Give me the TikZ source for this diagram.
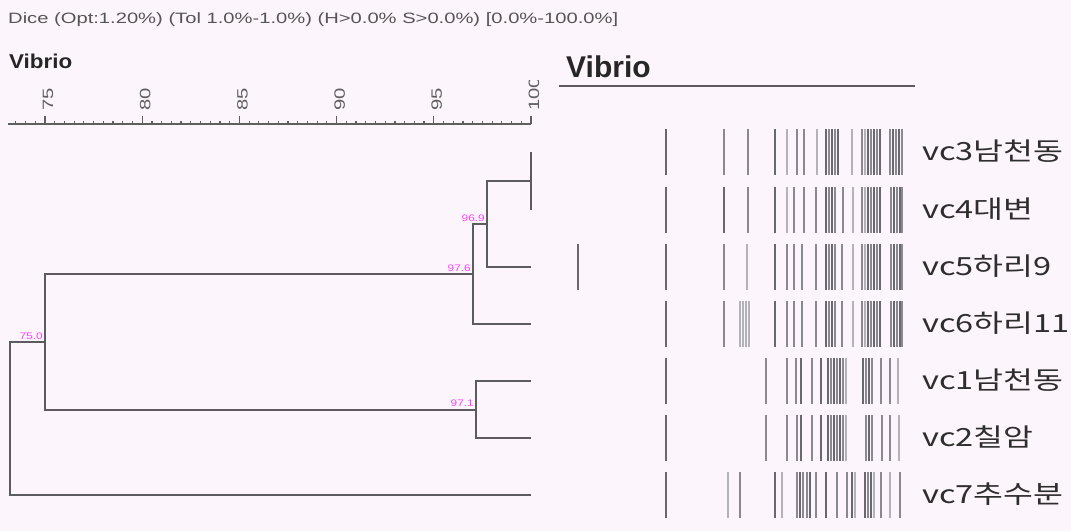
\documentclass[tikz,border=0pt]{standalone}
\usepackage{fontspec}
\setmainfont{Liberation Sans}
\newfontfamily\krfont{Noto Sans CJK KR}
\definecolor{bgpink}{RGB}{252,245,252}
\definecolor{treegray}{RGB}{92,92,96}
\definecolor{hdrgray}{RGB}{85,85,85}
\definecolor{axisgray}{RGB}{95,95,95}
\definecolor{simpink}{RGB}{250,70,250}
\definecolor{bandA}{RGB}{105,104,110}
\definecolor{bandB}{RGB}{138,137,143}
\definecolor{bandC}{RGB}{180,178,185}
\newcommand\drawlane[2]{%
  \foreach \bx/\bs in {#2}
    \draw[band, draw=band\bs] (\bx,#1-23) -- (\bx,#1+23);}
\begin{document}
\begin{tikzpicture}[x=1pt, y=-1pt,
  dline/.style={draw=treegray, line width=1.9pt},
  axisline/.style={draw=axisgray, line width=1.2pt},
  simlabel/.style={text=simpink, inner sep=0pt, anchor=south east,
    font=\fontsize{9.5}{9.5}\selectfont},
  ticklabel/.style={text=axisgray, inner sep=0pt, rotate=90, anchor=west,
    font=\fontsize{15}{15}\selectfont},
  band/.style={line width=2.6pt},
  lanelabel/.style={anchor=west, inner sep=0pt, text=black!82,
    font=\krfont\fontsize{25}{25}\selectfont}]
\fill[bgpink] (0,0) rectangle (1071,531);
\useasboundingbox (0,0) rectangle (1071,531);

% heading line and titles
\node[anchor=base west, inner sep=0pt, text=hdrgray] (hdr) at (8,23)
  {\fontsize{15}{15}\selectfont\scalebox{1.345}[1]{Dice (Opt:1.20\%) (Tol 1.0\%-1.0\%) (H>0.0\% S>0.0\%) [0.0\%-100.0\%]}};
\node[anchor=base west, inner sep=0pt, text=black!85] (title1) at (9,68)
  {\fontsize{20}{20}\bfseries\selectfont\scalebox{1.12}[1]{Vibrio}};
\node[anchor=base west, inner sep=0pt, text=black!85] (title2) at (566,77)
  {\fontsize{30}{30}\bfseries\selectfont Vibrio};
\draw[draw=treegray, line width=2pt] (559,86) -- (915,86);

% similarity scale
\draw[axisline] (8,124) -- (531,124);
\foreach \k in {0,...,53}
  \draw[axisline] ({531-\k*9.72},124) -- ++(0,-3);
\foreach \v in {75,80,...,100}
  \draw[axisline] ({531-(100-\v)*19.44},124) -- ++(0,-8);
\begin{scope}
  \clip (0,80) rectangle (560,124);
  \foreach \v in {75,80,...,100}
    \node[ticklabel] at ({534-(100-\v)*19.44},111) {\scalebox{1.35}[1]{\v}};
\end{scope}

% leaves (right ends of the tree)
\coordinate (L3) at (531,152);
\coordinate (L4) at (531,210);
\coordinate (L5) at (531,267);
\coordinate (L6) at (531,324);
\coordinate (L1) at (531,381);
\coordinate (L2) at (531,438);
\coordinate (L7) at (531,495);
% cluster nodes
\coordinate (n34) at (531,181);
\coordinate (nA) at (487,224);
\coordinate (nB) at (473,274);
\coordinate (nC) at (476,410);
\coordinate (nD) at (45,342);
\coordinate (nR) at (10,418);

\draw[dline] (L3) -- (L4);
\draw[dline] (n34) -| (nA) |- (L5);
\draw[dline] (nA) -| (nB) |- (L6);
\draw[dline] (L1) -| (nC) |- (L2);
\draw[dline] (nB) -| (nD) |- (nC);
\draw[dline] (nD) -| (nR) |- (L7);

\node[simlabel] (sA) at ([shift={(-2,-2)}]nA) {\scalebox{1.25}[1]{96.9}};
\node[simlabel] (sB) at ([shift={(-2,-2)}]nB) {\scalebox{1.25}[1]{97.6}};
\node[simlabel] (sC) at ([shift={(-2,-3)}]nC) {\scalebox{1.25}[1]{97.1}};
\node[simlabel] (sD) at ([shift={(-2,-2)}]nD) {\scalebox{1.25}[1]{75.0}};

% band patterns
\drawlane{152}{666/A,724/B,748/B,775/A,787/C,797/B,804/B,817/C,826/A,829/B,832/A,835/B,838/A,852/C,862/B,865/C,868/A,871/B,874/A,877/B,880/A,890/B,893/A,896/B,899/A,902/B}
\drawlane{210}{666/A,724/A,748/B,775/A,787/C,794/B,804/B,816/B,826/A,829/B,832/A,835/B,843/B,853/C,862/B,865/C,868/A,871/B,874/A,877/B,880/A,891/B,894/A,897/B,900/A,902/B}
\drawlane{267}{578/A,666/A,724/B,747/C,775/A,787/B,794/B,802/B,816/B,826/A,829/B,832/A,835/B,842/B,853/C,862/B,865/C,868/A,871/B,874/A,877/B,880/A,891/B,894/A,897/B,900/A,902/B}
\drawlane{324}{666/A,724/B,740/C,743/C,746/C,749/C,775/A,787/B,794/B,802/B,816/B,826/A,829/B,832/A,835/B,842/B,853/C,862/B,865/C,868/A,871/B,874/A,877/B,880/A,891/B,894/A,897/B,900/A,902/B}
\drawlane{381}{666/A,766/B,787/B,796/B,801/A,812/B,821/A,828/A,831/B,834/A,837/B,840/A,843/B,846/C,863/A,866/B,869/A,872/B,881/B,890/B,898/C}
\drawlane{438}{666/A,766/B,787/B,797/B,801/A,812/B,821/A,828/A,831/B,834/A,837/B,840/A,843/B,846/C,866/B,869/A,872/B,882/B,890/B,899/C}
\drawlane{495}{666/A,728/C,740/B,775/A,782/C,797/B,800/A,803/B,807/B,810/A,816/B,826/A,837/B,847/B,852/A,855/C,865/A,868/B,871/A,874/C,881/B,890/C,900/B}

% strain labels
\node[lanelabel] (t3) at (922,151) {\scalebox{1.3}[1]{vc3남천동}};
\node[lanelabel] (t4) at (922,209) {\scalebox{1.3}[1]{vc4대변}};
\node[lanelabel] (t5) at (922,266) {\scalebox{1.3}[1]{vc5하리9}};
\node[lanelabel] (t6) at (922,323) {\scalebox{1.3}[1]{vc6하리11}};
\node[lanelabel] (t1) at (922,380) {\scalebox{1.3}[1]{vc1남천동}};
\node[lanelabel] (t2) at (922,437) {\scalebox{1.3}[1]{vc2칠암}};
\node[lanelabel] (t7) at (922,494) {\scalebox{1.3}[1]{vc7추수분}};
\end{tikzpicture}
\end{document}
